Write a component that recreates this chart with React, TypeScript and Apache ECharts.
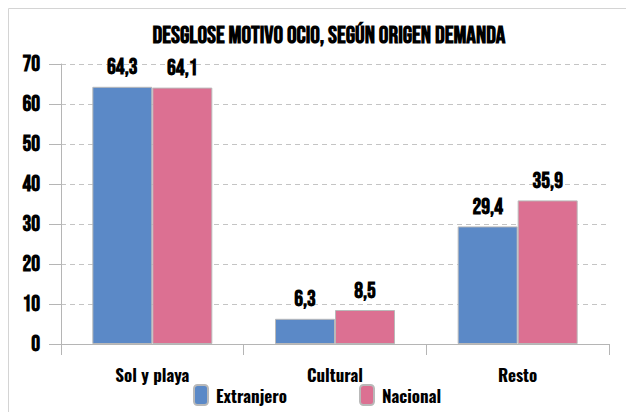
import React, { useEffect, useRef } from "react";
import * as echarts from "echarts";

const categories = ["Sol y playa", "Cultural", "Resto"];
const extranjero = [64.3, 6.3, 29.4];
const nacional = [64.1, 8.5, 35.9];
const titleText = "DESGLOSE MOTIVO OCIO, SEGÚN ORIGEN DEMANDA";

const NUM_FONT = "'Bebas Neue', 'Oswald', sans-serif";
const TXT_FONT = "'Oswald', 'Roboto Condensed', sans-serif";

export default function App() {
  const ref = useRef<HTMLDivElement>(null);
  useEffect(() => {
    if (!ref.current) return;
    const chart = echarts.init(ref.current, undefined, { renderer: "svg" });
    const fmt = (p: any) => String(p.value).replace(".", ",");
    const labelStyle = {
      show: true,
      position: "top" as const,
      distance: 8,
      formatter: fmt,
      color: "#000",
      fontFamily: NUM_FONT,
      fontWeight: "bold" as const,
      fontSize: 22,
    };
    chart.setOption({
      animation: false,
      backgroundColor: "#fff",
      textStyle: { fontFamily: TXT_FONT },
      title: {
        text: titleText,
        left: 316,
        top: 10,
        textAlign: "center",
        textStyle: { fontFamily: NUM_FONT, fontWeight: "bold", fontSize: 24, color: "#000" },
      },
      graphic: [
        {
          type: "rect",
          shape: { x: 0.5, y: 0.5, width: 700, height: 500 },
          style: { fill: "none", stroke: "#d4d4d4", lineWidth: 1 },
          silent: true,
        },
      ],
      legend: {
        left: 180,
        top: 371,
        itemWidth: 14,
        itemHeight: 20,
        itemGap: 72,
        textStyle: {
          fontFamily: TXT_FONT,
          fontWeight: "bold",
          fontSize: 17,
          color: "#000",
          padding: [0, 0, 0, 3],
        },
        data: ["Extranjero", "Nacional"],
      },
      grid: { left: 53, right: 25, top: 56, bottom: 68, containLabel: false },
      xAxis: {
        type: "category",
        data: categories,
        axisLine: { lineStyle: { color: "#b5b5b5", width: 1 } },
        axisTick: { show: true, length: 11, lineStyle: { color: "#b5b5b5" } },
        axisLabel: {
          margin: 22,
          color: "#000",
          fontFamily: TXT_FONT,
          fontWeight: "bold",
          fontSize: 17,
        },
      },
      yAxis: {
        type: "value",
        min: 0,
        max: 70,
        interval: 10,
        axisLine: { show: true, lineStyle: { color: "#b5b5b5", width: 1 } },
        axisTick: { show: true, length: 12, lineStyle: { color: "#b5b5b5" } },
        axisLabel: {
          margin: 21,
          color: "#000",
          fontFamily: NUM_FONT,
          fontWeight: "bold",
          fontSize: 22,
        },
        splitLine: { lineStyle: { color: "#c4c4c4", type: [5, 4], width: 1 } },
      },
      series: [
        {
          name: "Extranjero",
          type: "bar",
          data: extranjero,
          barWidth: 60,
          barGap: "0%",
          itemStyle: { color: "#5b89c7", borderColor: "#b9b9b9", borderWidth: 1 },
          label: labelStyle,
        },
        {
          name: "Nacional",
          type: "bar",
          data: nacional,
          barWidth: 60,
          barGap: "0%",
          itemStyle: { color: "#dc7092", borderColor: "#b9b9b9", borderWidth: 1 },
          label: labelStyle,
        },
      ],
    });
    return () => chart.dispose();
  }, []);
  return <div ref={ref} style={{ width: 626, height: 404 }} />;
}
